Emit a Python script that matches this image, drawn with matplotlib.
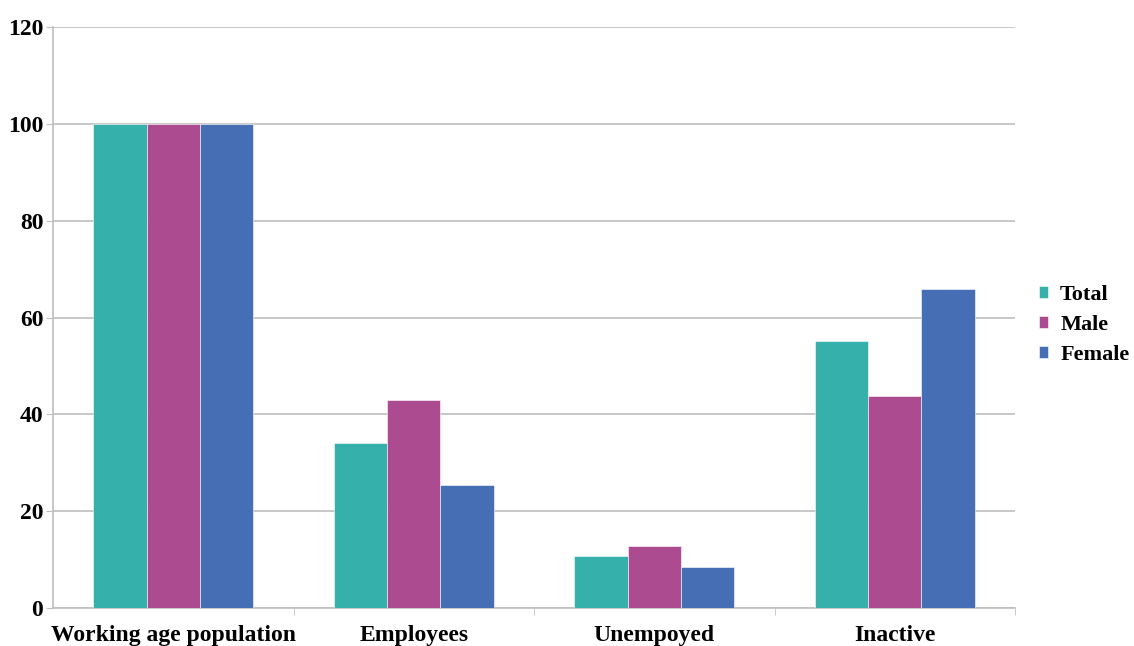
import numpy as np
import matplotlib
matplotlib.use('Agg')
import matplotlib.pyplot as plt
from matplotlib.ticker import MultipleLocator, FixedLocator

categories = ['Working age population', 'Employees', 'Unempoyed', 'Inactive']
series_names = ['Total', 'Male', 'Female']
total = [100, 34.0, 10.7, 55.2]
male = [100, 43.0, 12.9, 43.8]
female = [100, 25.5, 8.5, 65.8]
colors = ['#35B0AA', '#AD4B90', '#466EB5']

plt.rcParams['font.family'] = ['Liberation Serif', 'DejaVu Serif']
plt.rcParams['font.weight'] = 'bold'

fig = plt.figure(figsize=(11.34, 6.46), dpi=100)
ax = fig.add_axes([53 / 1134, 1 - 608 / 646, (1015 - 53) / 1134, (608 - 27) / 646])

x = np.arange(len(categories))
w = 0.222
for i, (vals, name) in enumerate(zip([total, male, female], series_names)):
    ax.bar(x + (i - 1) * w, vals, w, color=colors[i], label=name,
           edgecolor='white', linewidth=0.4, zorder=3)

ax.set_xlim(-0.5, len(categories) - 0.5)
ax.set_ylim(0, 120)
ax.yaxis.set_major_locator(MultipleLocator(20))
ax.grid(axis='y', color='#BFBFBF', linewidth=1.2, zorder=0)

ax.set_xticks(x)
ax.set_xticklabels(categories, fontsize=17, fontweight='bold')
ax.xaxis.set_minor_locator(FixedLocator([0.5, 1.5, 2.5, 3.5]))
ax.tick_params(axis='x', which='major', length=0, pad=12)
ax.tick_params(axis='x', which='minor', length=5, color='#BFBFBF', direction='out')
ax.tick_params(axis='y', length=5, color='#BFBFBF', labelsize=17, pad=2)
for lab in ax.get_yticklabels():
    lab.set_fontweight('bold')

for side in ['top', 'right']:
    ax.spines[side].set_visible(False)
ax.spines['left'].set_color('#BFBFBF')
ax.spines['bottom'].set_color('#BFBFBF')
ax.spines['left'].set_linewidth(1.2)
ax.spines['bottom'].set_linewidth(1.2)

leg = fig.legend(loc='center left', bbox_to_anchor=(1039 / 1134, 1 - 325 / 646),
                 frameon=False, fontsize=16, handlelength=0.4, handleheight=0.4,
                 handletextpad=0.55, labelspacing=0.45, borderpad=0, borderaxespad=0)
for t in leg.get_texts():
    t.set_fontweight('bold')

fig.savefig('out.png', dpi=100)
